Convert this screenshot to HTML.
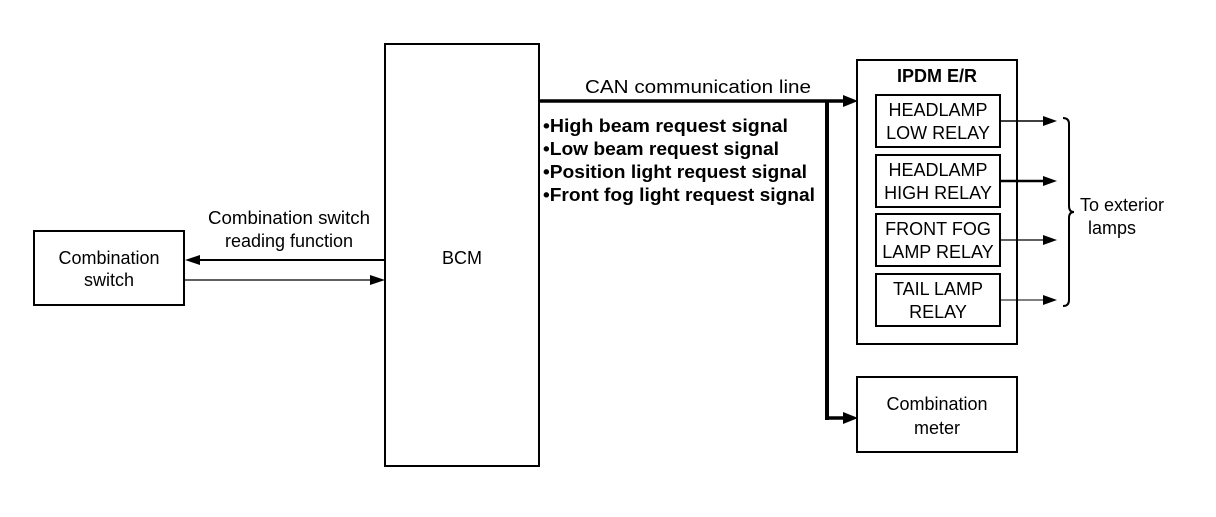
<!DOCTYPE html>
<html><head><style>
body{margin:0;background:#fff;}
svg text{font-family:"Liberation Sans",sans-serif;font-size:18px;fill:#000;}
</style></head><body>
<svg width="1216" height="512" viewBox="0 0 1216 512" xmlns="http://www.w3.org/2000/svg">
<g fill="none" stroke="#000" stroke-width="2">
<rect x="385" y="44" width="154" height="422"/>
<rect x="34" y="231" width="150" height="74"/>
<rect x="857" y="60" width="160" height="284"/>
<rect x="876" y="95" width="124" height="52"/>
<rect x="876" y="155" width="124" height="52"/>
<rect x="876" y="214" width="124" height="52"/>
<rect x="876" y="274" width="124" height="52"/>
<rect x="857" y="377" width="160" height="75"/>
</g>
<g stroke="#000">
<line x1="200" y1="260" x2="385" y2="260" stroke-width="2"/>
<line x1="184" y1="280" x2="370" y2="280" stroke-width="1.2"/>
<line x1="539" y1="101" x2="843" y2="101" stroke-width="3.5"/>
<line x1="827" y1="101" x2="827" y2="420" stroke-width="4"/>
<line x1="825" y1="418" x2="843" y2="418" stroke-width="3.5"/>
<line x1="1000" y1="121" x2="1045" y2="121" stroke-width="1.5"/>
<line x1="1000" y1="181" x2="1045" y2="181" stroke-width="2.5"/>
<line x1="1000" y1="240" x2="1045" y2="240" stroke-width="1.2"/>
<line x1="1000" y1="300" x2="1045" y2="300" stroke-width="1"/>
</g>
<g fill="#000">
<polygon points="185,260 200,255 200,265"/>
<polygon points="385,280 370,275 370,285"/>
<polygon points="858,101 843,95 843,107"/>
<polygon points="858,418 843,412 843,424"/>
<polygon points="1057,121 1043,116 1043,126"/>
<polygon points="1057,181 1043,176 1043,186"/>
<polygon points="1057,240 1043,235 1043,245"/>
<polygon points="1057,300 1043,295 1043,305"/>
</g>
<path d="M1063,118 Q1069,118 1069,124 L1069,206 Q1069,212 1074,212 Q1069,212 1069,218 L1069,300 Q1069,306 1063,306" fill="none" stroke="#000" stroke-width="2"/>
<text x="109" y="264" text-anchor="middle">Combination</text>
<text x="109" y="286" text-anchor="middle">switch</text>
<text x="289" y="224" text-anchor="middle" textLength="162" lengthAdjust="spacingAndGlyphs">Combination switch</text>
<text x="289" y="247" text-anchor="middle">reading function</text>
<text x="462" y="264" text-anchor="middle">BCM</text>
<text x="585" y="93" textLength="226" lengthAdjust="spacingAndGlyphs">CAN communication line</text>
<text x="543" y="132" style="font-weight:bold" textLength="245" lengthAdjust="spacingAndGlyphs">•High beam request signal</text>
<text x="543" y="155" style="font-weight:bold" textLength="236" lengthAdjust="spacingAndGlyphs">•Low beam request signal</text>
<text x="543" y="178" style="font-weight:bold" textLength="264" lengthAdjust="spacingAndGlyphs">•Position light request signal</text>
<text x="543" y="201" style="font-weight:bold" textLength="272" lengthAdjust="spacingAndGlyphs">•Front fog light request signal</text>
<text x="937" y="82" text-anchor="middle" style="font-weight:bold">IPDM E/R</text>
<text x="938" y="116" text-anchor="middle">HEADLAMP</text>
<text x="938" y="139" text-anchor="middle">LOW RELAY</text>
<text x="938" y="176" text-anchor="middle">HEADLAMP</text>
<text x="938" y="199" text-anchor="middle">HIGH RELAY</text>
<text x="938" y="235" text-anchor="middle">FRONT FOG</text>
<text x="938" y="258" text-anchor="middle">LAMP RELAY</text>
<text x="938" y="295" text-anchor="middle">TAIL LAMP</text>
<text x="938" y="318" text-anchor="middle">RELAY</text>
<text x="937" y="410" text-anchor="middle">Combination</text>
<text x="937" y="434" text-anchor="middle">meter</text>
<text x="1080" y="211">To exterior</text>
<text x="1088" y="234">lamps</text>
</svg>
</body></html>
